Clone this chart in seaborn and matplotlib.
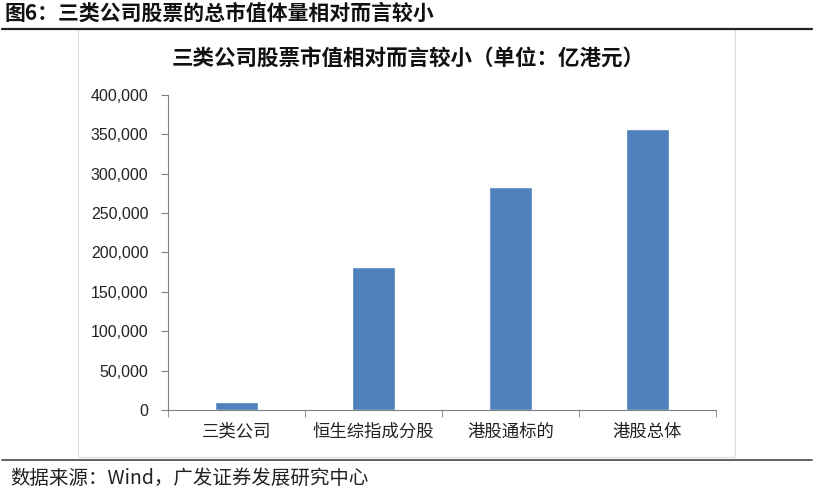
import matplotlib
matplotlib.use("Agg")
import matplotlib.pyplot as plt
from matplotlib.patches import Rectangle
from matplotlib.lines import Line2D
from matplotlib.ticker import FuncFormatter, FixedLocator
import seaborn as sns

categories = ["三类公司", "恒生综指成分股", "港股通标的", "港股总体"]
market_cap = [10000, 181000, 283000, 357000]
y_ticks = [0, 50000, 100000, 150000, 200000, 250000, 300000, 350000, 400000]

sns.set_style("white")
plt.rcParams["font.family"] = ["Liberation Sans", "Noto Sans CJK SC"]

fig = plt.figure(figsize=(8.17, 4.97), dpi=100)
ax = fig.add_axes([168 / 817, 1 - 410 / 497, 548 / 817, 315 / 497])

sns.barplot(x=categories, y=market_cap, color="#4F81BD", width=0.31,
            saturation=1, ax=ax)

ax.set_xlim(-0.5, len(categories) - 0.5)
ax.set_ylim(0, 400000)
ax.set_yticks(y_ticks)
ax.yaxis.set_major_formatter(FuncFormatter(lambda v, p: f"{int(v):,}"))
ax.tick_params(axis="y", which="major", direction="out", length=5,
               color="#808080", labelsize=11.5, pad=9, left=True,
               labelcolor="#222222")
ax.tick_params(axis="x", which="major", length=0, labelsize=12.5, pad=9,
               labelcolor="#222222")
ax.xaxis.set_minor_locator(FixedLocator([i - 0.5 for i in range(len(categories) + 1)]))
ax.tick_params(axis="x", which="minor", direction="out", length=5,
               color="#808080", bottom=True)
for lab in ax.get_xticklabels():
    lab.set_family(["Noto Sans CJK SC"])
ax.set_xlabel("")
ax.set_ylabel("")

for side in ["top", "right"]:
    ax.spines[side].set_visible(False)
ax.spines["left"].set_color("#808080")
ax.spines["bottom"].set_color("#808080")

# chart frame
fig.patches.append(Rectangle((78 / 817, 1 - 457 / 497), 657 / 817, 428 / 497,
                             transform=fig.transFigure, fill=False,
                             edgecolor="#dcdcdc", linewidth=0.8))

fig.text(408 / 817, 1 - 59 / 497, "三类公司股票市值相对而言较小（单位：亿港元）",
         ha="center", va="center", fontsize=15.5, fontweight="bold",
         family=["Noto Sans CJK SC"], color="#111111")

fig.text(4 / 817, 1 - 13 / 497, "图6：三类公司股票的总市值体量相对而言较小",
         ha="left", va="center", fontsize=15, fontweight="bold",
         family=["Noto Sans CJK SC"], color="#111111")
fig.add_artist(Line2D([2 / 817, 812 / 817], [1 - 29 / 497, 1 - 29 / 497],
                      transform=fig.transFigure, color="#222222", linewidth=1.6))
fig.add_artist(Line2D([2 / 817, 812 / 817], [1 - 460 / 497, 1 - 460 / 497],
                      transform=fig.transFigure, color="#555555", linewidth=1.3))
fig.text(10 / 817, 1 - 478 / 497, "数据来源：Wind，广发证券发展研究中心",
         ha="left", va="center", fontsize=14,
         family=["Noto Sans CJK SC", "Liberation Sans"], color="#222222")

fig.savefig("out.png", dpi=100)
